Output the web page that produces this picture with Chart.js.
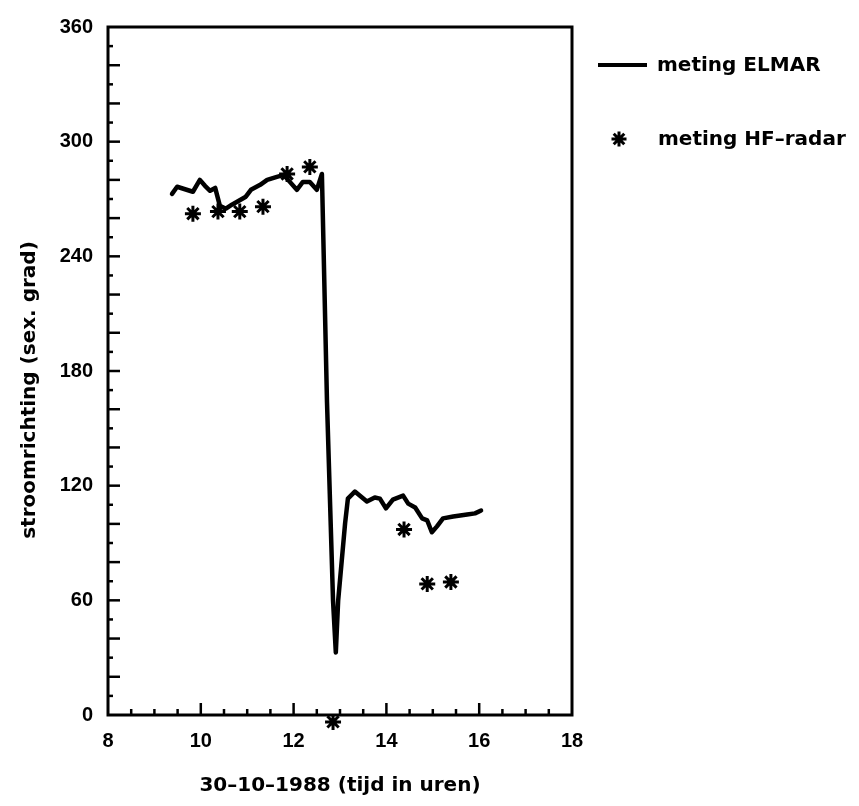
<!DOCTYPE html>
<html>
<head>
<meta charset="utf-8">
<style>
  html, body { margin: 0; padding: 0; background: #fff; }
  #c { display: block; }
</style>
<script src="https://cdn.jsdelivr.net/npm/chart.js@4/dist/chart.umd.min.js"></script>
</head>
<body>
<canvas id="c" width="859" height="806"></canvas>
<script>
// Stroomrichting 30-10-1988: ELMAR-meting (lijn) en HF-radar (sterren)
const elmarTime = [9.38, 9.49, 9.83, 9.98, 10.09, 10.20, 10.31, 10.41, 10.54, 10.67, 10.82, 10.97,
  11.08, 11.28, 11.43, 11.64, 11.79, 11.90, 12.07, 12.20, 12.35, 12.50, 12.61, 12.72, 12.85,
  12.91, 12.96, 13.11, 13.17, 13.32, 13.58, 13.75, 13.86, 13.99, 14.14, 14.36, 14.47, 14.62,
  14.77, 14.88, 14.98, 15.09, 15.22, 15.44, 15.74, 15.91, 16.04];
const elmarDir = [272.7, 276.4, 273.8, 280.0, 276.9, 274.3, 275.8, 266.5, 264.9, 267.0, 269.1, 271.2,
  274.8, 277.4, 280.0, 281.6, 282.6, 279.5, 274.8, 278.9, 278.9, 274.8, 283.1, 163.6, 59.7,
  32.7, 59.7, 100.3, 113.2, 116.9, 111.7, 113.8, 113.2, 108.1, 112.7, 114.8, 110.6, 108.6,
  102.9, 101.8, 95.6, 98.7, 102.9, 103.9, 104.9, 105.5, 107.0];

const radarTime = [9.83, 10.37, 10.84, 11.34, 11.86, 12.35, 12.85, 14.38, 14.88, 15.39];
const radarDir = [262.3, 263.4, 263.4, 266.0, 283.1, 286.8, -3.6, 97.1, 68.6, 69.6];

const xTicks = [8, 10, 12, 14, 16, 18];
const yTicks = [0, 60, 120, 180, 240, 300, 360];

const seriesNames = ['meting ELMAR', 'meting HF\u2013radar'];
const xTitle = '30\u201310\u20131988 (tijd in uren)';
const yTitle = 'stroomrichting (sex. grad)';

const TEXT_FONT = 'bold 20px "DejaVu Sans"';
const TICK_FONT = { family: '"Liberation Sans", Arial, sans-serif', size: 20, weight: 'bold' };

const toPoints = (xs, ys) => xs.map((x, i) => ({ x, y: ys[i] }));

// Inward tick marks, closed frame, axis titles and legend
const decorations = {
  id: 'decorations',
  afterDraw(chart) {
    const { ctx, chartArea: a, scales: { x, y } } = chart;
    ctx.save();
    ctx.strokeStyle = '#000';
    ctx.lineCap = 'butt';

    // minor/major ticks pointing into the plot
    ctx.lineWidth = 2.5;
    for (let v = 8.5; v < 18; v += 0.5) {
      const px = x.getPixelForValue(v);
      const len = (v % 2 === 0) ? 12 : 6;
      ctx.beginPath();
      ctx.moveTo(px, a.bottom);
      ctx.lineTo(px, a.bottom - len);
      ctx.stroke();
    }
    for (let v = 10; v < 360; v += 10) {
      const py = y.getPixelForValue(v);
      const len = (v % 20 === 0) ? 12 : 5;
      ctx.beginPath();
      ctx.moveTo(a.left, py);
      ctx.lineTo(a.left + len, py);
      ctx.stroke();
    }

    // frame
    ctx.lineWidth = 3;
    ctx.strokeRect(a.left, a.top, a.right - a.left, a.bottom - a.top);

    // axis titles
    ctx.fillStyle = '#000';
    ctx.font = TEXT_FONT;
    ctx.textAlign = 'center';
    ctx.textBaseline = 'middle';
    ctx.fillText(xTitle, (a.left + a.right) / 2, 786);
    ctx.save();
    ctx.translate(30, 390);
    ctx.rotate(-Math.PI / 2);
    ctx.fillText(yTitle, 0, 0);
    ctx.restore();

    // legend
    ctx.textAlign = 'left';
    ctx.lineWidth = 4;
    ctx.beginPath();
    ctx.moveTo(598, 65);
    ctx.lineTo(647, 65);
    ctx.stroke();
    ctx.fillText(seriesNames[0], 657, 66);

    const sx = 619, sy = 139, r = 7.5;
    ctx.lineWidth = 3;
    ctx.beginPath();
    for (let k = 0; k < 4; k++) {
      const ang = k * Math.PI / 4;
      ctx.moveTo(sx - r * Math.cos(ang), sy - r * Math.sin(ang));
      ctx.lineTo(sx + r * Math.cos(ang), sy + r * Math.sin(ang));
    }
    ctx.stroke();
    ctx.fillText(seriesNames[1], 658, 140);
    ctx.restore();
  }
};

new Chart(document.getElementById('c'), {
  type: 'scatter',
  data: {
    datasets: [
      {
        label: seriesNames[0],
        data: toPoints(elmarTime, elmarDir),
        showLine: true,
        borderColor: '#000',
        borderWidth: 4.5,
        borderJoinStyle: 'round',
        borderCapStyle: 'round',
        pointRadius: 0,
        tension: 0
      },
      {
        label: seriesNames[1],
        data: toPoints(radarTime, radarDir),
        showLine: false,
        pointStyle: 'star',
        pointRadius: 8,
        borderColor: '#000',
        backgroundColor: '#000',
        borderWidth: 3,
        clip: false
      }
    ]
  },
  options: {
    responsive: false,
    animation: false,
    devicePixelRatio: 1,
    layout: { padding: { top: 22, right: 287, left: 0, bottom: 0 } },
    plugins: {
      legend: { display: false },
      tooltip: { enabled: false }
    },
    scales: {
      x: {
        type: 'linear',
        min: 8,
        max: 18,
        afterBuildTicks: (s) => { s.ticks = xTicks.map(v => ({ value: v })); },
        afterFit: (s) => { s.height = 91; },
        grid: { display: false, drawTicks: false },
        border: { display: false },
        ticks: { color: '#000', font: TICK_FONT, padding: 14, maxRotation: 0 }
      },
      y: {
        type: 'linear',
        min: 0,
        max: 360,
        afterBuildTicks: (s) => { s.ticks = yTicks.map(v => ({ value: v })); },
        afterFit: (s) => { s.width = 108; },
        grid: { display: false, drawTicks: false },
        border: { display: false },
        ticks: { color: '#000', font: TICK_FONT, padding: 15 }
      }
    }
  },
  plugins: [decorations]
});
</script>
</body>
</html>
